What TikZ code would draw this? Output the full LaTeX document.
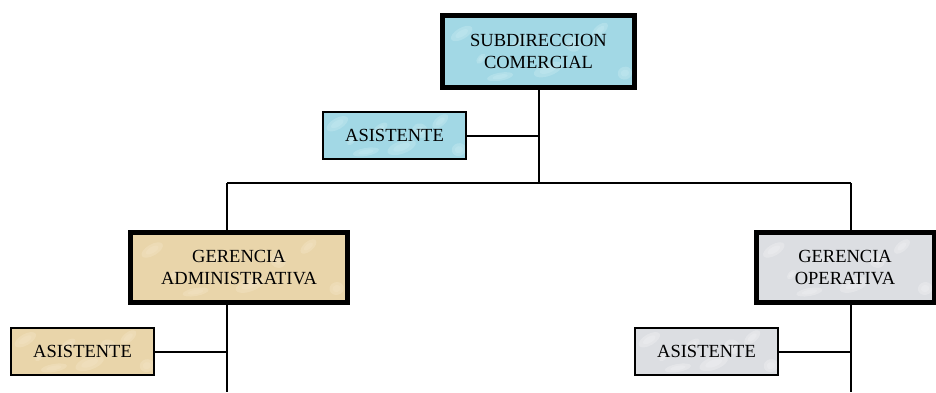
\documentclass[tikz,border=0pt]{standalone}
\usepackage{fontspec}
\setmainfont{Liberation Serif}
\usetikzlibrary{calc}
\begin{document}
\definecolor{agua}{RGB}{162,216,229}
\definecolor{aguaclaro}{RGB}{205,237,243}
\definecolor{pergamino}{RGB}{233,213,170}
\definecolor{pergaminoclaro}{RGB}{245,231,202}
\definecolor{marmol}{RGB}{220,222,226}
\definecolor{marmolclaro}{RGB}{243,244,246}
\begin{tikzpicture}[x=1pt,y=-1pt,
  caja/.style={rectangle,draw=black,outer sep=0pt,inner sep=0pt,align=center,
    font=\fontsize{18.5}{21.5}\selectfont},
  jefe/.style={caja,line width=5pt,minimum height=70pt},
  apoyo/.style={caja,line width=2pt,minimum width=143pt,minimum height=47pt},
  % mottled fill: base colour with soft lighter patches
  textura/.style 2 args={fill=#1,path picture={
      \coordinate (tNO) at (path picture bounding box.north west);
      \coordinate (tNE) at (path picture bounding box.north east);
      \coordinate (tSO) at (path picture bounding box.south west);
      \foreach \a/\b/\r/\s/\g in {0.1/0.25/0.2/0.14/30, 0.55/0.75/0.25/0.16/20, 0.82/0.2/0.16/0.12/40,
          0.3/0.85/0.22/0.1/10, 0.68/0.4/0.12/0.2/60, 0.4/0.35/0.14/0.1/35, 0.95/0.8/0.12/0.16/15,
          0.2/0.6/0.1/0.08/50}{
        \coordinate (tX) at ($(tNO)!\a!(tNE)$);
        \coordinate (tY) at ($(tNO)!\b!(tSO)$);
        \fill[#2,opacity=0.35] (tX |- tY) ellipse[x radius=\r*60pt,y radius=\s*40pt,rotate=\g];
        \fill[#2,opacity=0.3] (tX |- tY) ellipse[x radius=\r*35pt,y radius=\s*22pt,rotate=\g];
      }}},
  enlace/.style={line width=2pt}]
\useasboundingbox (0,0) rectangle (936,392);
\fill[white] (0,0) rectangle (936,392);

% cajas del organigrama
\node[jefe,minimum width=192pt,minimum height=72pt,textura={agua}{aguaclaro}] (sub) at (538.5,51.5) {SUBDIRECCION\\COMERCIAL};
\node[apoyo,textura={agua}{aguaclaro}] (asisS) at (394.5,135.5) {ASISTENTE};
\node[jefe,minimum width=217pt,textura={pergamino}{pergaminoclaro}] (admin) at (239,267.5) {GERENCIA\\ADMINISTRATIVA};
\node[jefe,minimum width=178pt,textura={marmol}{marmolclaro}] (oper) at (845,267.5) {GERENCIA\\OPERATIVA};
\node[apoyo,textura={pergamino}{pergaminoclaro}] (asisA) at (82.5,351.5) {ASISTENTE};
\node[apoyo,textura={marmol}{marmolclaro}] (asisO) at (706.5,351.5) {ASISTENTE};

% puntos de la barra y de los extremos inferiores
\coordinate (barraI) at (227,183);
\coordinate (barraD) at (851,183);
\coordinate (finI) at (227,392);
\coordinate (finD) at (851,392);

% conectores
\draw[enlace] (sub.south) -- (sub.south |- barraI);
\draw[enlace] (barraI) -- (barraD);
\draw[enlace] (barraI) -- (barraI |- admin.north);
\draw[enlace] (barraD) -- (barraD |- oper.north);
\draw[enlace] (asisS.east) -- (asisS.east -| sub.south);
\draw[enlace] (admin.south -| finI) -- (finI);
\draw[enlace] (oper.south -| finD) -- (finD);
\draw[enlace] (asisA.east) -- (asisA.east -| finI);
\draw[enlace] (asisO.east) -- (asisO.east -| finD);
\end{tikzpicture}
\end{document}
